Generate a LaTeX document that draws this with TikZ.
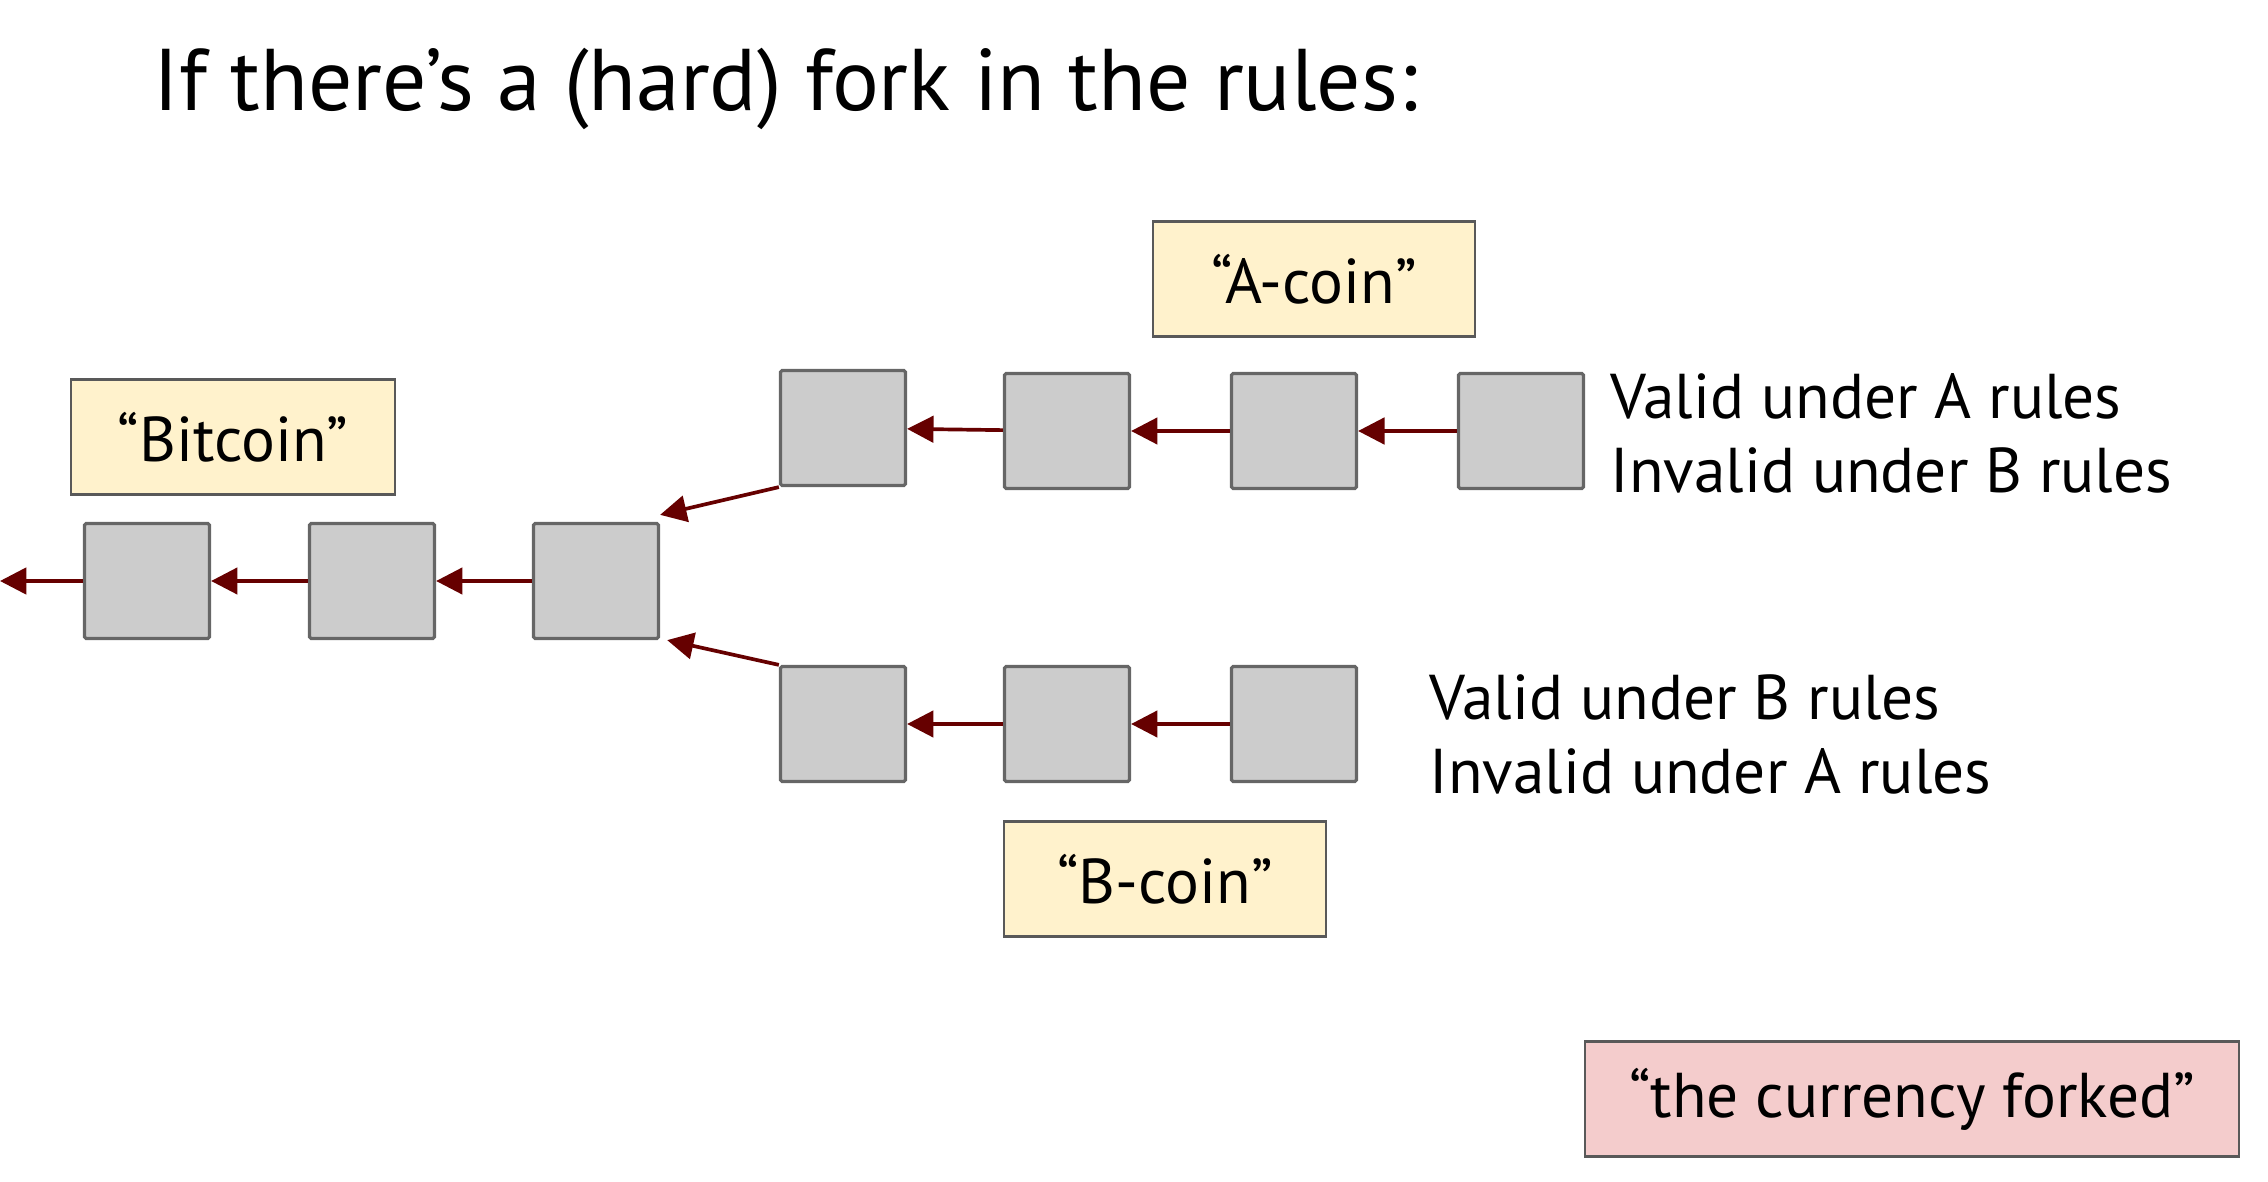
\documentclass[tikz,border=0pt]{standalone}
\usepackage{fontspec}
\setmainfont{PT Sans}
\usetikzlibrary{arrows.meta}
\definecolor{chainred}{HTML}{660000}
\definecolor{blockfill}{HTML}{CCCCCC}
\definecolor{blockedge}{HTML}{666666}
\definecolor{tagyellow}{HTML}{FFF2CC}
\definecolor{tagpink}{HTML}{F4CCCC}
\definecolor{tagedge}{HTML}{595959}
\tikzset{
	block/.style={draw=blockedge, fill=blockfill, line width=0.9pt, rounded corners=0.5pt,
		minimum width=1.25cm, minimum height=1.15cm, inner sep=0pt},
	tag/.style={draw=tagedge, fill=tagyellow, line width=0.6pt, minimum height=1.15cm,
		inner sep=0pt, font=\fontsize{18}{20}\selectfont},
	note/.style={anchor=base west, inner sep=0pt, font=\fontsize{18}{20}\selectfont},
	link/.style={chainred, line width=1.05pt, -{Triangle[length=7.5pt, width=7.5pt]}}
}

\begin{document}
\begin{tikzpicture}[x=0.01cm, y=-0.01cm]
			%%%%% START %%%%%
			\useasboundingbox (0, 0) rectangle (2268, 1182);
			
			\node[anchor=base west, inner sep=0pt, font=\fontsize{24.9}{28}\selectfont] (title) at (153, 111) {If there’s a (hard) fork in the rules:};
			
			% common chain
			\node[block] (b1) at (147, 581) {};
			\node[block] (b2) at (372, 581) {};
			\node[block] (b3) at (596, 581) {};
			\coordinate (past) at (0, 581);
			
			% A branch
			\node[block] (a1) at (843, 428) {};
			\node[block] (a2) at (1067, 431) {};
			\node[block] (a3) at (1294, 431) {};
			\node[block] (a4) at (1521, 431) {};
			
			% B branch
			\node[block] (c1) at (843, 724) {};
			\node[block] (c2) at (1067, 724) {};
			\node[block] (c3) at (1294, 724) {};
			
			\draw[link] (b1) -- (past);
			\draw[link] (b2) -- (b1);
			\draw[link] (b3) -- (b2);
			\draw[link] (a1.south west) -- ([yshift=2pt]b3.north east);
			\draw[link] (a2) -- (a1);
			\draw[link] (a3) -- (a2);
			\draw[link] (a4) -- (a3);
			\draw[link] (c1.north west) -- ([xshift=2pt]b3.south east);
			\draw[link] (c2) -- (c1);
			\draw[link] (c3) -- (c2);
			
			\node[tag, minimum width=3.24cm] (bitcoin) at (233, 437) {“Bitcoin”};
			\node[tag, minimum width=3.22cm] (acoin) at (1314, 279) {“A-coin”};
			\node[tag, minimum width=3.22cm] (bcoin) at (1165, 879) {“B-coin”};
			\node[tag, fill=tagpink, minimum width=6.54cm] (forked) at (1912, 1099) {“the currency forked”};
			
			\node[note] (avalid) at (1610, 419) {Valid under A rules};
			\node[note] (ainvalid) at (1610, 492) {Invalid under B rules};
			\node[note] (bvalid) at (1429, 719) {Valid under B rules};
			\node[note] (binvalid) at (1429, 793) {Invalid under A rules};
			%%%%% END %%%%%
\end{tikzpicture}
\end{document}
